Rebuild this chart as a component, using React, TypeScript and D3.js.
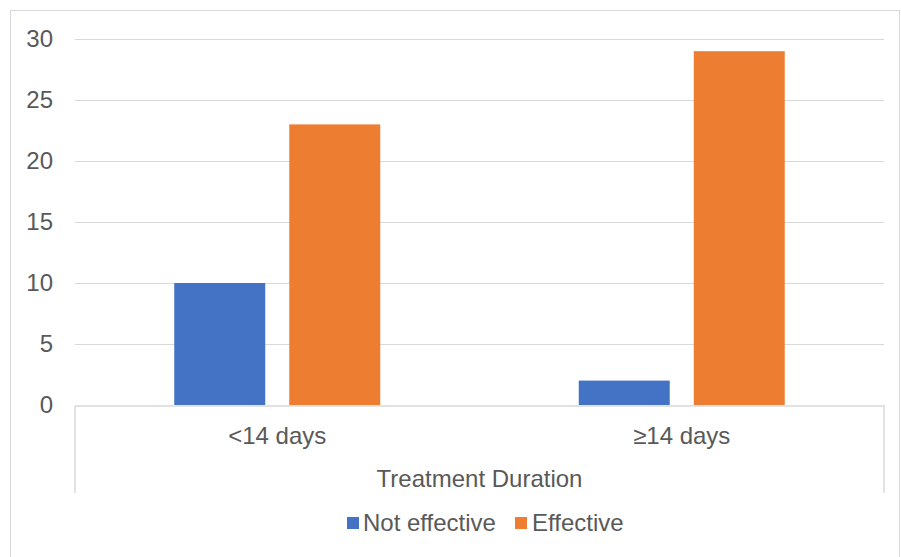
import React from "react";
import * as d3 from "d3";

const categories = ["<14 days", "≥14 days"];
const seriesNames = ["Not effective", "Effective"];
const notEffective = [10, 2];
const effective = [23, 29];
const yTicks = [0, 5, 10, 15, 20, 25, 30];
const axisTitle = "Treatment Duration";
const colors = ["#4472C4", "#ED7D31"];

const W = 901;
const H = 557;
const plot = { left: 75, right: 884, top: 39, bottom: 405 };

export default function App() {
  const x0 = d3.scaleBand().domain(categories).range([plot.left, plot.right]).paddingInner(0).paddingOuter(0);
  const x1 = d3
    .scaleBand()
    .domain(seriesNames)
    .range([0, x0.bandwidth()])
    .paddingInner(0.209)
    .paddingOuter(0.863);
  const y = d3.scaleLinear().domain([0, 30]).range([plot.bottom, plot.top]);
  const values = [notEffective, effective];
  const font = "Liberation Sans, Arial, sans-serif";
  const textColor = "#595959";
  const fs = 24;

  return (
    <svg width={W} height={H} style={{ position: "absolute", left: 0, top: 0 }} fontFamily={font}>
      <rect x={0} y={0} width={W} height={H} fill="#fff" />
      <rect x={10.5} y={10.5} width={889} height={560} fill="none" stroke="#d9d9d9" strokeWidth={1} />
      {yTicks.map((t) => (
        <g key={t}>
          {t > 0 && (
            <line x1={plot.left} x2={plot.right} y1={Math.round(y(t)) + 0.5} y2={Math.round(y(t)) + 0.5} stroke="#d9d9d9" strokeWidth={1} />
          )}
          <text x={53} y={y(t)} dy="0.35em" textAnchor="end" fontSize={fs} fill={textColor}>
            {t}
          </text>
        </g>
      ))}
      {categories.map((c, i) =>
        seriesNames.map((s, j) => {
          const v = values[j][i];
          return (
            <rect
              key={c + s}
              x={(x0(c) ?? 0) + (x1(s) ?? 0)}
              y={y(v)}
              width={x1.bandwidth()}
              height={y(0) - y(v)}
              fill={colors[j]}
            />
          );
        })
      )}
      <line x1={plot.left} x2={plot.right + 1} y1={406} y2={406} stroke="#d9d9d9" strokeWidth={1.5} />
      <line x1={plot.left} x2={plot.left} y1={406} y2={493} stroke="#d9d9d9" strokeWidth={1.5} />
      <line x1={plot.right} x2={plot.right} y1={406} y2={493} stroke="#d9d9d9" strokeWidth={1.5} />
      {categories.map((c) => (
        <text key={c} x={(x0(c) ?? 0) + x0.bandwidth() / 2} y={444} textAnchor="middle" fontSize={fs} fill={textColor}>
          {c}
        </text>
      ))}
      <text x={(plot.left + plot.right) / 2} y={487} textAnchor="middle" fontSize={fs} fill={textColor}>
        {axisTitle}
      </text>
      <g>
        <rect x={347} y={517} width={12} height={12} fill={colors[0]} />
        <text x={363} y={531} fontSize={fs} fill={textColor}>
          {seriesNames[0]}
        </text>
        <rect x={515} y={517} width={12} height={12} fill={colors[1]} />
        <text x={532} y={531} fontSize={fs} fill={textColor}>
          {seriesNames[1]}
        </text>
      </g>
    </svg>
  );
}
